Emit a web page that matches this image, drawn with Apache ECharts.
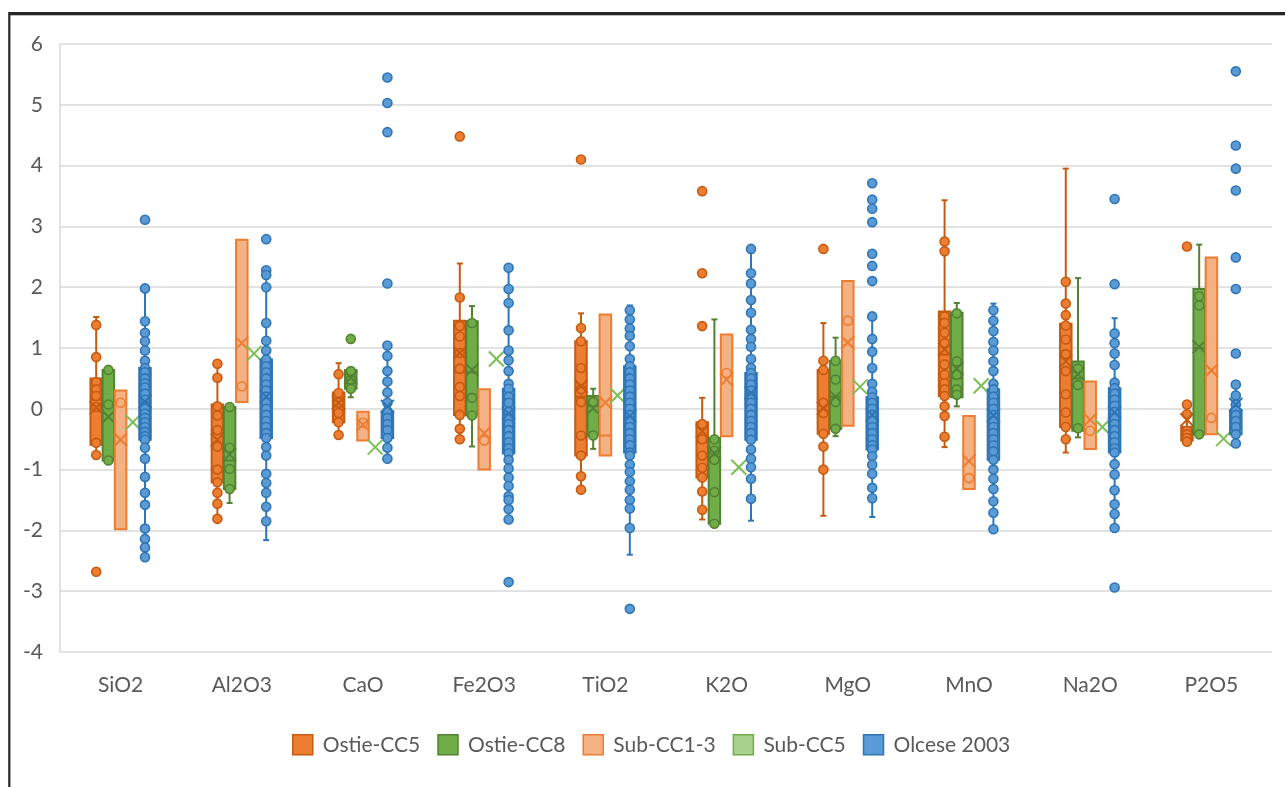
<!DOCTYPE html>
<html>
<head>
<meta charset="utf-8">
<title>Oxide box plots</title>
<script src="https://cdn.jsdelivr.net/npm/echarts@6/dist/echarts.min.js"></script>
<style>
    html, body { margin: 0; padding: 0; background: #ffffff; }
    #chart { width: 1285px; height: 787px; }
</style>
</head>
<body>
<div id="chart"></div>
<script>
var categories = ['SiO2', 'Al2O3', 'CaO', 'Fe2O3', 'TiO2', 'K2O', 'MgO', 'MnO', 'Na2O', 'P2O5'];
var seriesNames = ['Ostie-CC5', 'Ostie-CC8', 'Sub-CC1-3', 'Sub-CC5', 'Olcese 2003'];
var yTicks = { min: -4, max: 6, step: 1 };

// rows: [whiskerLow, q1, median, q3, whiskerHigh, mean]
var ostieCC5Stats = [
    [-0.76, -0.59, 0.15, 0.50, 1.51, 0.02],
    [-1.81, -1.21, -0.40, 0.07, 0.74, -0.51],
    [-0.43, -0.22, -0.02, 0.27, 0.75, 0.10],
    [-0.50, -0.10, 0.60, 1.45, 2.39, 0.92],
    [-1.33, -0.77, 0.20, 1.11, 1.57, 0.37],
    [-1.82, -1.13, -0.55, -0.22, 0.18, -0.37],
    [-1.76, -0.41, -0.05, 0.64, 1.41, 0.01],
    [-0.63, 0.21, 0.89, 1.60, 3.43, 0.98],
    [-0.72, -0.30, 0.60, 1.40, 3.95, 0.78],
    [-0.55, -0.52, -0.42, -0.30, 0.07, -0.18]
];
var ostieCC5Points = [
    [1.38, 0.85, 0.44, 0.32, 0.21, 0.03, -0.56, -0.76, -2.68],
    [0.74, 0.51, 0.04, -0.11, -0.35, -0.62, -1.00, -1.21, -1.38, -1.56, -1.81],
    [0.57, 0.26, 0.10, -0.07, -0.22, -0.43],
    [4.48, 1.83, 1.36, 1.19, 0.92, 0.66, 0.36, 0.21, -0.10, -0.33, -0.50],
    [4.10, 1.33, 1.11, 0.67, 0.32, 0.11, -0.44, -0.77, -1.11, -1.33],
    [3.58, 2.23, 1.36, -0.25, -0.50, -0.77, -0.97, -1.13, -1.36, -1.66],
    [2.63, 0.79, 0.64, 0.10, -0.07, -0.41, -0.62, -1.00],
    [2.75, 2.59, 1.52, 1.41, 1.25, 1.08, 0.73, 0.56, 0.42, 0.32, 0.21, 0.04, -0.12, -0.46],
    [2.09, 1.73, 1.54, 1.37, 1.14, 0.90, 0.62, 0.24, -0.06, -0.30, -0.50],
    [2.67, 0.07, -0.09, -0.36, -0.42, -0.48, -0.54]
];

var ostieCC8Stats = [
    [-0.85, -0.85, 0.07, 0.64, 0.64, -0.13],
    [-1.55, -1.32, -0.85, 0.03, 0.03, -0.75],
    [0.19, 0.33, 0.42, 0.64, 0.64, 0.51],
    [-0.62, -0.11, 0.60, 1.44, 1.69, 0.64],
    [-0.66, -0.44, 0.05, 0.21, 0.33, 0.01],
    [-1.89, -1.89, -0.80, -0.48, 1.47, -0.73],
    [-0.45, -0.33, 0.20, 0.79, 1.17, 0.20],
    [0.04, 0.19, 0.50, 1.58, 1.74, 0.66],
    [-0.47, -0.36, 0.50, 0.78, 2.15, 0.57],
    [-0.42, -0.42, 1.00, 1.97, 2.70, 1.02]
];
var ostieCC8Points = [
    [0.64, 0.07, -0.85],
    [0.03, -0.64, -0.99, -1.32],
    [1.15, 0.62, 0.48, 0.33],
    [1.41, 0.18, -0.11],
    [0.11, -0.44],
    [-0.50, -0.69, -0.84, -1.37, -1.89],
    [0.79, 0.48, 0.11, -0.33],
    [1.57, 0.78, 0.56, 0.32, 0.23],
    [0.66, 0.39, -0.32],
    [1.85, 1.70, -0.42]
];

var subCC13Stats = [
    [-1.98, -1.98, 0.10, 0.30, 0.30, -0.51],
    [0.11, 0.11, 0.37, 2.78, 2.78, 1.08],
    [-0.52, -0.52, -0.23, -0.05, -0.05, -0.26],
    [-1.00, -1.00, -0.52, 0.32, 0.32, -0.40],
    [-0.77, -0.77, -0.44, 1.55, 1.55, 0.10],
    [-0.45, -0.45, 0.59, 1.22, 1.22, 0.48],
    [-0.28, -0.28, 1.45, 2.10, 2.10, 1.09],
    [-1.32, -1.32, -1.14, -0.12, -0.12, -0.86],
    [-0.66, -0.66, -0.36, 0.45, 0.45, -0.18],
    [-0.42, -0.42, -0.15, 2.49, 2.49, 0.63]
];
var subCC13Points = [[0.10], [0.37], [-0.23], [-0.52], [], [0.59], [1.45], [-1.14], [-0.36], [-0.15]];

var subCC5Values = [-0.22, 0.91, -0.63, 0.82, 0.22, -0.96, 0.36, 0.38, -0.30, -0.49];

var olceseStats = [
    [-2.44, -0.51, -0.05, 0.67, 1.98, 0.12],
    [-2.16, -0.48, 0.00, 0.81, 2.28, 0.20],
    [-0.82, -0.48, -0.23, -0.04, 1.04, 0.04],
    [-1.82, -0.73, -0.30, 0.33, 2.32, -0.08],
    [-2.40, -0.72, 0.04, 0.70, 1.70, -0.12],
    [-1.84, -0.51, 0.04, 0.59, 2.63, 0.26],
    [-1.78, -0.67, -0.20, 0.19, 1.52, -0.10],
    [-1.98, -0.84, -0.29, 0.32, 1.73, -0.11],
    [-1.96, -0.72, -0.21, 0.34, 1.49, -0.06],
    [-0.57, -0.42, -0.15, -0.03, 0.40, 0.07]
];
var olcesePoints = [
    [3.11, 1.98, 1.44, 1.25, 1.11, 0.96, 0.79, 0.67, 0.60, 0.50, 0.42, 0.35, 0.25, 0.15, 0.05, 0.00, -0.08, -0.15, -0.22, -0.30, -0.38, -0.45, -0.51, -0.64, -0.82, -1.12, -1.38, -1.58, -1.97, -2.14, -2.28, -2.44],
    [2.79, 2.28, 2.20, 2.00, 1.41, 1.12, 0.96, 0.81, 0.70, 0.60, 0.50, 0.40, 0.30, 0.20, 0.10, 0.00, -0.10, -0.20, -0.30, -0.40, -0.48, -0.63, -0.77, -1.07, -1.22, -1.38, -1.61, -1.85],
    [5.45, 5.03, 4.55, 2.06, 1.04, 0.87, 0.62, 0.45, 0.27, 0.10, -0.04, -0.15, -0.25, -0.35, -0.48, -0.64, -0.82],
    [2.32, 1.97, 1.74, 1.29, 0.96, 0.80, 0.62, 0.41, 0.33, 0.20, 0.10, -0.05, -0.15, -0.25, -0.35, -0.45, -0.55, -0.65, -0.73, -0.84, -0.98, -1.13, -1.27, -1.44, -1.50, -1.65, -1.82, -2.85],
    [1.62, 1.47, 1.32, 1.20, 1.03, 0.82, 0.70, 0.60, 0.50, 0.40, 0.30, 0.20, 0.10, 0.00, -0.10, -0.20, -0.30, -0.40, -0.50, -0.60, -0.72, -0.77, -0.92, -1.04, -1.19, -1.33, -1.50, -1.64, -1.96, -3.29],
    [2.63, 2.23, 2.06, 1.79, 1.58, 1.30, 1.15, 1.02, 0.82, 0.67, 0.59, 0.50, 0.40, 0.30, 0.20, 0.10, 0.00, -0.10, -0.20, -0.30, -0.40, -0.51, -0.67, -0.82, -0.96, -1.15, -1.48],
    [3.71, 3.44, 3.29, 3.07, 2.55, 2.35, 2.10, 1.52, 1.15, 0.94, 0.67, 0.41, 0.28, 0.19, 0.10, 0.00, -0.10, -0.20, -0.30, -0.40, -0.50, -0.60, -0.67, -0.78, -0.92, -1.07, -1.30, -1.47],
    [1.62, 1.45, 1.28, 1.10, 0.96, 0.78, 0.62, 0.41, 0.32, 0.20, 0.10, 0.00, -0.10, -0.20, -0.30, -0.40, -0.50, -0.60, -0.70, -0.84, -1.00, -1.15, -1.32, -1.52, -1.71, -1.98],
    [3.45, 2.05, 1.24, 1.08, 0.91, 0.72, 0.43, 0.34, 0.25, 0.15, 0.05, -0.05, -0.15, -0.25, -0.35, -0.45, -0.55, -0.65, -0.72, -0.91, -1.08, -1.34, -1.57, -1.73, -1.96, -2.94],
    [5.55, 4.33, 3.95, 3.59, 2.49, 1.97, 0.91, 0.40, 0.22, 0.07, -0.03, -0.10, -0.20, -0.30, -0.42, -0.57]
];

var fills = ['#ED7D31', '#70AD47', '#F4B183', '#A9D18E', '#5B9BD5'];
var strokes = ['#C55A11', '#548235', '#ED7D31', '#70AD47', '#2E75B6'];
var meanColors = ['#C55A11', '#548235', '#ED7D31', '#7DBE55', '#2E75B6'];

var allStats = [ostieCC5Stats, ostieCC8Stats, subCC13Stats, subCC5Values.map(function (v) { return [v, v, v, v, v, v]; }), olceseStats];
var allPoints = [ostieCC5Points, ostieCC8Points, subCC13Points, categories.map(function () { return []; }), olcesePoints];

function makeRender(s, meanOnly) {
    return function (params, api) {
        var cat = api.value(0),
            band = api.size([1, 0])[0],
            cx = api.coord([cat, 0])[0] + band * 0.1007 * (s - 2),
            w = band * 0.095,
            lo = api.value(1), q1 = api.value(2), med = api.value(3),
            q3 = api.value(4), hi = api.value(5), mean = api.value(6),
            children = [],
            pts = allPoints[s][params.dataIndex] || [],
            i, my, m;

        function py(v) { return api.coord([cat, v])[1]; }
        function line(x1, y1, x2, y2, c, lw) {
            children.push({ type: 'line', shape: { x1: x1, y1: y1, x2: x2, y2: y2 }, style: { stroke: c, lineWidth: lw } });
        }

        if (!meanOnly) {
            if (hi > q3) {
                line(cx, py(q3), cx, py(hi), strokes[s], 2);
                line(cx - 3, py(hi), cx + 3, py(hi), strokes[s], 2);
            }
            if (lo < q1) {
                line(cx, py(q1), cx, py(lo), strokes[s], 2);
                line(cx - 3, py(lo), cx + 3, py(lo), strokes[s], 2);
            }
            children.push({
                type: 'rect',
                shape: { x: cx - w / 2, y: py(q3), width: w, height: py(q1) - py(q3) },
                style: { fill: fills[s], stroke: strokes[s], lineWidth: 2 }
            });
            line(cx - w / 2, py(med), cx + w / 2, py(med), strokes[s], 2);
            for (i = 0; i < pts.length; i++) {
                children.push({
                    type: 'circle',
                    shape: { cx: cx, cy: py(pts[i]), r: 4.5 },
                    style: { fill: fills[s], stroke: strokes[s], lineWidth: 1.6 }
                });
            }
        }

        my = py(mean);
        m = meanOnly ? 7.5 : 6.5;
        line(cx - m, my - m, cx + m, my + m, meanColors[s], 2);
        line(cx - m, my + m, cx + m, my - m, meanColors[s], 2);

        return { type: 'group', children: children };
    };
}

var series = [], legendData = [], s;
for (s = 0; s < seriesNames.length; s++) {
    series.push({
        name: seriesNames[s],
        type: 'custom',
        renderItem: makeRender(s, s === 3),
        itemStyle: { color: fills[s], borderColor: strokes[s], borderWidth: 1.5 },
        encode: { x: 0, y: [1, 2, 3, 4, 5, 6] },
        data: allStats[s].map(function (row, c) { return [c].concat(row); }),
        silent: true,
        z: 2 + s
    });
    legendData.push({
        name: seriesNames[s],
        icon: 'rect',
        itemStyle: { color: fills[s], borderColor: strokes[s], borderWidth: 1.5 }
    });
}

var myChart = echarts.init(document.getElementById('chart'), null, { renderer: 'canvas' });

myChart.setOption({
    animation: false,
    backgroundColor: '#ffffff',
    textStyle: { fontFamily: 'Lato, "Open Sans", sans-serif' },
    grid: { left: 60, right: 13, top: 44, bottom: 135 },
    legend: {
        data: legendData,
        left: 292,
        top: 734,
        padding: 0,
        itemWidth: 20,
        itemHeight: 20,
        itemGap: 17,
        textStyle: { color: '#595959', fontSize: 21, fontFamily: 'Lato', padding: [0, 0, 0, 5] }
    },
    xAxis: {
        type: 'category',
        data: categories,
        boundaryGap: true,
        axisLine: { show: false },
        axisTick: { show: false },
        axisLabel: { color: '#595959', fontSize: 21, fontFamily: 'Lato', margin: 23 }
    },
    yAxis: {
        type: 'value',
        min: yTicks.min,
        max: yTicks.max,
        interval: yTicks.step,
        axisLine: { show: true, lineStyle: { color: '#d9d9d9', width: 1.5 } },
        axisTick: { show: false },
        splitLine: { lineStyle: { color: '#d9d9d9', width: 1.5 } },
        axisLabel: { color: '#595959', fontSize: 21, fontFamily: 'Lato', margin: 17 }
    },
    graphic: [
        { type: 'line', shape: { x1: 9, y1: 13.5, x2: 1285, y2: 13.5 }, style: { stroke: '#262626', lineWidth: 3 } },
        { type: 'line', shape: { x1: 9, y1: 15.5, x2: 1285, y2: 15.5 }, style: { stroke: '#bfbfbf', lineWidth: 1 } },
        { type: 'line', shape: { x1: 9.3, y1: 12, x2: 9.3, y2: 787 }, style: { stroke: '#262626', lineWidth: 2.2 } }
    ],
    series: series
});

window.addEventListener('resize', function () {
    myChart.resize();
});
</script>
</body>
</html>
